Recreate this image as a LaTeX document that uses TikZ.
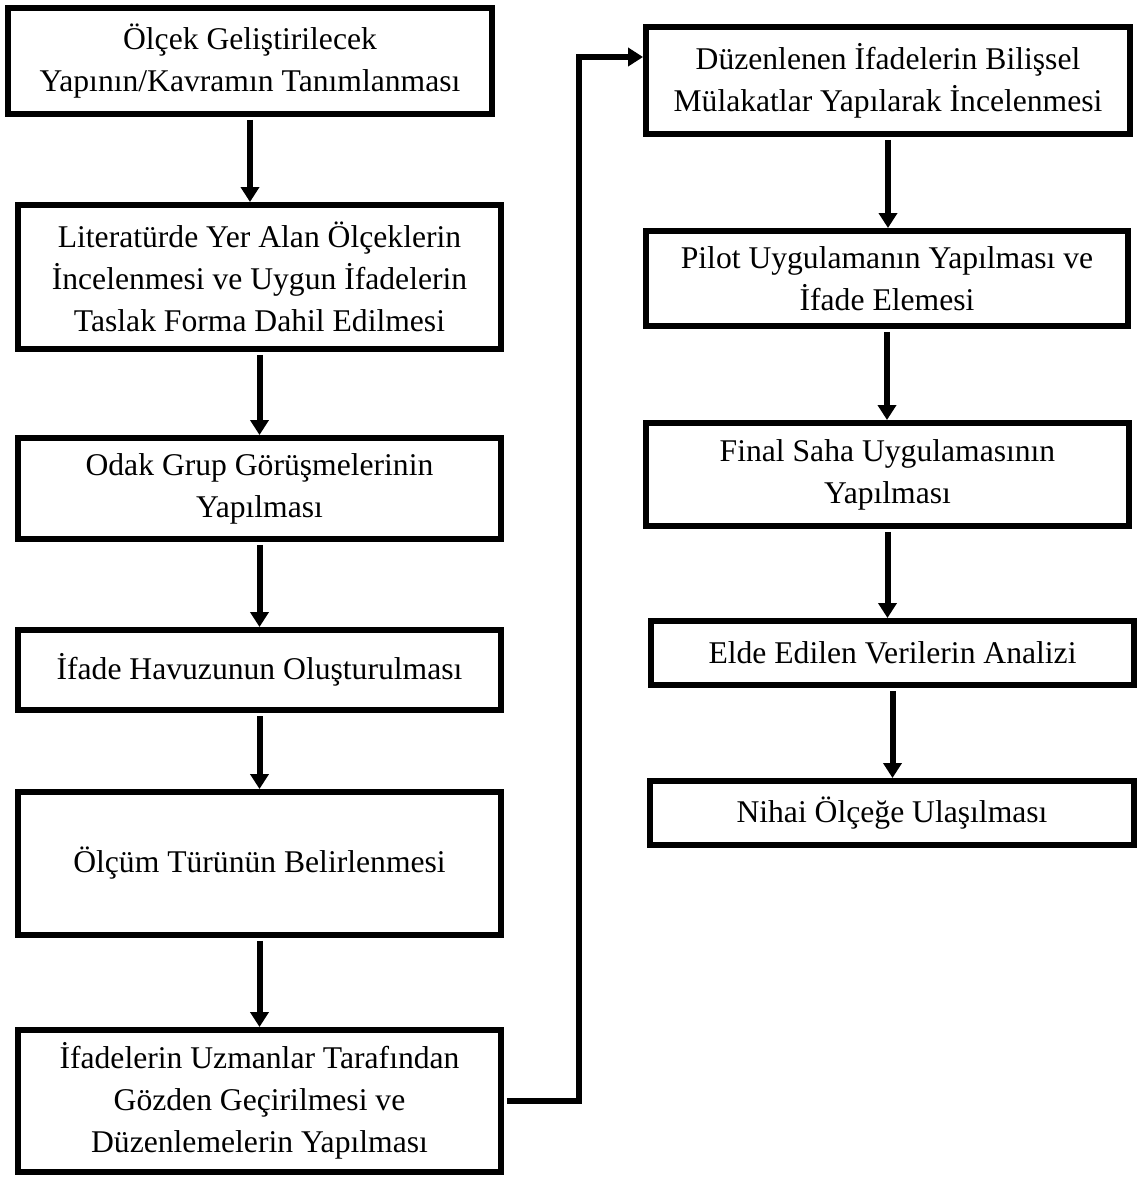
\documentclass[tikz,border=0pt]{standalone}
\usepackage{fontspec}
\setmainfont{Liberation Serif}
\usetikzlibrary{arrows.meta}
\tikzset{
  stage/.style={draw,line width=0.12cm,inner sep=0pt,align=center,font=\fontsize{18}{24}\selectfont},
  flow/.style={line width=0.12cm,shorten <=0.06cm,-{Triangle[length=0.3cm,width=0.36cm]}}
}
\begin{document}
\begin{tikzpicture}[x=0.02cm,y=-0.02cm]
\useasboundingbox (0,0) rectangle (1142,1177);
\node[stage,minimum width=9.68cm,minimum height=2.12cm] (b1) at (250,61) {Ölçek Geliştirilecek\\Yapının/Kavramın Tanımlanması};
\node[stage,minimum width=9.66cm,minimum height=2.88cm] (b2) at (259.5,277) {Literatürde Yer Alan Ölçeklerin\\İncelenmesi ve Uygun İfadelerin\\Taslak Forma Dahil Edilmesi};
\node[stage,minimum width=9.66cm,minimum height=2.02cm] (b3) at (259.5,488.5) {Odak Grup Görüşmelerinin\\Yapılması};
\node[stage,minimum width=9.66cm,minimum height=1.6cm] (b4) at (259.5,670) {İfade Havuzunun Oluşturulması};
\node[stage,minimum width=9.66cm,minimum height=2.86cm] (b5) at (259.5,863.5) {Ölçüm Türünün Belirlenmesi};
\node[stage,minimum width=9.66cm,minimum height=2.84cm] (b6) at (259.5,1101) {İfadelerin Uzmanlar Tarafından\\Gözden Geçirilmesi ve\\Düzenlemelerin Yapılması};
\node[stage,minimum width=9.68cm,minimum height=2.14cm] (b7) at (888,80.5) {Düzenlenen İfadelerin Bilişsel\\Mülakatlar Yapılarak İncelenmesi};
\node[stage,minimum width=9.64cm,minimum height=1.9cm] (b8) at (887,278.5) {Pilot Uygulamanın Yapılması ve\\İfade Elemesi};
\node[stage,minimum width=9.66cm,minimum height=2.06cm] (b9) at (887.5,474.5) {Final Saha Uygulamasının\\Yapılması};
\node[stage,minimum width=9.66cm,minimum height=1.28cm] (b10) at (892.5,653) {Elde Edilen Verilerin Analizi};
\node[stage,minimum width=9.68cm,minimum height=1.28cm] (b11) at (892,813) {Nihai Ölçeğe Ulaşılması};
\foreach \a/\b in {b1/b2,b2/b3,b3/b4,b4/b5,b5/b6,b7/b8,b8/b9,b9/b10,b10/b11}
  \draw[flow] (\a.south) -- (\a.south |- \b.north);
\coordinate (bend) at (579,57);
\draw[flow] (b6.east) -| (bend) -- (bend -| b7.west);
\end{tikzpicture}
\end{document}
